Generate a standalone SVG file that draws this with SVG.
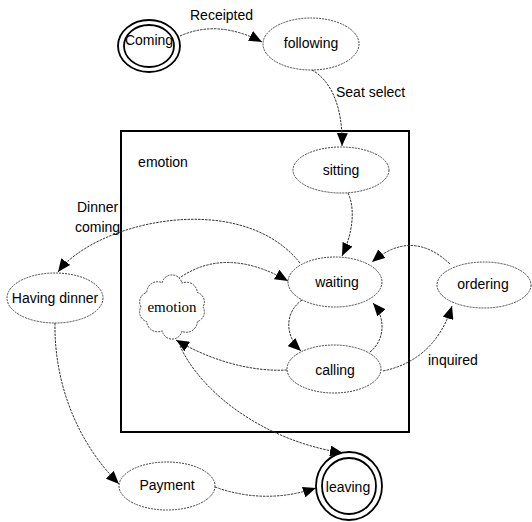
<svg xmlns="http://www.w3.org/2000/svg" width="532" height="522" viewBox="0 0 532 522">
<defs>
<style>
.st{fill:#fff;stroke:#444;stroke-width:1;stroke-dasharray:2 1}
.fin{fill:#fff;stroke:#000;stroke-width:1.8}
.cn{fill:none;stroke:#333;stroke-width:1;stroke-dasharray:2.5 1}
.t{font-family:"Liberation Sans",Arial,sans-serif;font-size:14px;fill:#000}
.m{text-anchor:middle}
.ser{font-family:"Liberation Serif","Times New Roman",serif;font-size:15px;fill:#000;text-anchor:middle}
</style>
<marker id="ah" markerUnits="userSpaceOnUse" markerWidth="13" markerHeight="11" refX="13" refY="5.5" orient="auto" viewBox="0 0 13 11">
<path d="M0,0 L13,5.5 L0,11 z" fill="#000"/>
</marker>
</defs>
<rect width="532" height="522" fill="#fff"/>
<g id="composite">
<rect x="121" y="131" width="288" height="301" fill="none" stroke="#000" stroke-width="2"/>
<text class="t m" x="163" y="167">emotion</text>
</g>
<g id="connectors">
<path class="cn" d="M180,36 Q218,19 262,42" marker-end="url(#ah)"/>
<path class="cn" d="M312,70 C330,80 343,105 342,146" marker-end="url(#ah)"/>
<path class="cn" d="M348,193 C356,210 352,235 342,256" marker-end="url(#ah)"/>
<path class="cn" d="M300,263 C240,188 95,222 58,272" marker-end="url(#ah)"/>
<path class="cn" d="M178,279 Q225,245 288,281" marker-end="url(#ah)"/>
<path class="cn" d="M450,264 Q412,228 372,262" marker-end="url(#ah)"/>
<path class="cn" d="M302,300 C285,312 284,335 301,351" marker-end="url(#ah)"/>
<path class="cn" d="M370,352 C385,340 386,318 373,303" marker-end="url(#ah)"/>
<path class="cn" d="M383,371 Q435,360 452,306" marker-end="url(#ah)"/>
<path class="cn" d="M287,370 C250,372 210,360 176,340" marker-end="url(#ah)"/>
<path class="cn" d="M180,346 C200,390 260,440 343,453" marker-end="url(#ah)"/>
<path class="cn" d="M55,323 C54,380 75,440 119,484" marker-end="url(#ah)"/>
<path class="cn" d="M215,487 Q265,505 316,488" marker-end="url(#ah)"/>
<text class="t" x="190" y="20">Receipted</text>
<text class="t" x="336" y="97">Seat select</text>
<text class="t" x="77" y="212">Dinner</text>
<text class="t" x="75" y="232">coming</text>
<text class="t" x="428" y="365">inquired</text>
</g>
<g id="coming">
<ellipse class="fin" cx="149" cy="46" rx="31" ry="26"/>
<ellipse class="fin" cx="149" cy="46" rx="25" ry="21"/>
<text class="t m" x="149" y="45">Coming</text>
</g>
<g id="following">
<ellipse class="st" cx="311" cy="44" rx="48" ry="26"/>
<text class="t m" x="311" y="48">following</text>
</g>
<g id="sitting">
<ellipse class="st" cx="341" cy="170" rx="48" ry="23"/>
<text class="t m" x="341" y="175">sitting</text>
</g>
<g id="waiting">
<ellipse class="st" cx="335" cy="282" rx="47" ry="25"/>
<text class="t m" x="337" y="287">waiting</text>
</g>
<g id="calling">
<ellipse class="st" cx="334" cy="369" rx="47" ry="24"/>
<text class="t m" x="335" y="375">calling</text>
</g>
<g id="ordering">
<ellipse class="st" cx="484" cy="285" rx="47" ry="23"/>
<text class="t m" x="483" y="289">ordering</text>
</g>
<g id="emotion-cloud">
<path class="st" d="M141,307 A10,10 0 0 1 146.7,292.4 A11,11 0 0 1 162.2,282.7 A10,10 0 0 1 181.8,283.2 A11,11 0 0 1 197.3,292.4 A10,10 0 0 1 203,307 A10,10 0 0 1 197.3,321.6 A11,11 0 0 1 181.8,331.3 A10,10 0 0 1 162.2,330.8 A11,11 0 0 1 146.7,321.6 A10,10 0 0 1 141,307 Z"/>
<text class="ser" x="172" y="312">emotion</text>
</g>
<g id="having-dinner">
<ellipse class="st" cx="55" cy="298" rx="48" ry="25"/>
<text class="t m" x="55" y="303">Having dinner</text>
</g>
<g id="payment">
<ellipse class="st" cx="167" cy="486" rx="48" ry="24"/>
<text class="t m" x="167" y="490">Payment</text>
</g>
<g id="leaving">
<ellipse class="fin" cx="349" cy="486" rx="33" ry="34"/>
<ellipse class="fin" cx="349" cy="486" rx="27" ry="28"/>
<text class="t m" x="348" y="492">leaving</text>
</g>
</svg>
